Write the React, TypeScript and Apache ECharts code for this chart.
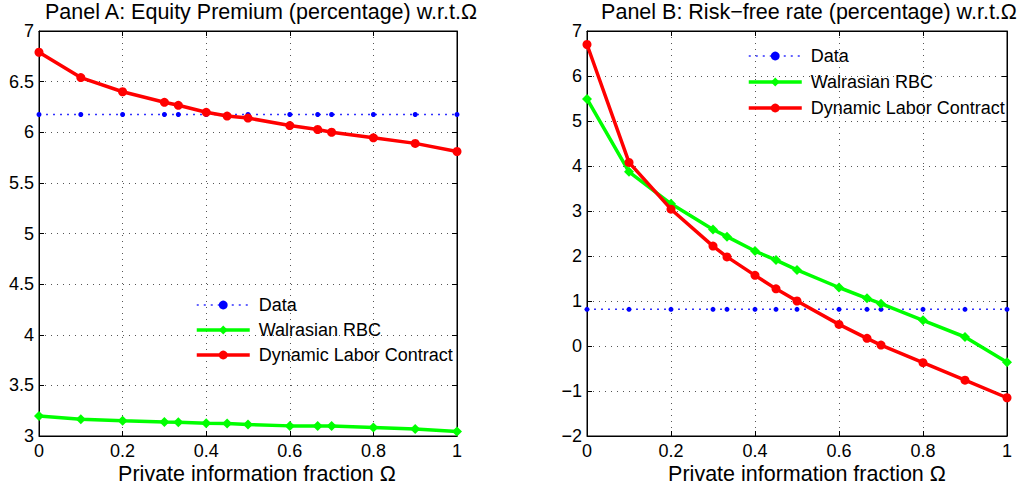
import React, { useEffect, useRef } from "react";
import * as echarts from "echarts";

const omega = [0, 0.1, 0.2, 0.3, 1 / 3, 0.4, 0.45, 0.5, 0.6, 2 / 3, 0.7, 0.8, 0.9, 1];

const epData = [6.175, 6.175, 6.175, 6.175, 6.175, 6.175, 6.175, 6.175, 6.175, 6.175, 6.175, 6.175, 6.175, 6.175];
const epWalras = [3.197, 3.165, 3.15, 3.138, 3.137, 3.125, 3.124, 3.113, 3.1, 3.099, 3.098, 3.085, 3.07, 3.045];
const epDLC = [6.79, 6.54, 6.4, 6.296, 6.266, 6.197, 6.16, 6.14, 6.066, 6.027, 6.0, 5.945, 5.89, 5.81];

const rfData = [0.815, 0.815, 0.815, 0.815, 0.815, 0.815, 0.815, 0.815, 0.815, 0.815, 0.815, 0.815, 0.815, 0.815];
const rfWalras = [5.49, 3.87, 3.16, 2.59, 2.43, 2.11, 1.91, 1.69, 1.3, 1.06, 0.94, 0.57, 0.2, -0.36];
const rfDLC = [6.7, 4.08, 3.04, 2.22, 1.98, 1.57, 1.27, 1.0, 0.48, 0.17, 0.02, -0.37, -0.76, -1.15];

const xTicks = { min: 0, max: 1, interval: 0.2 };
const yTicksA = { min: 3, max: 7, interval: 0.5 };
const yTicksB = { min: -2, max: 7, interval: 1 };

const titles = [
  "Panel A: Equity Premium (percentage) w.r.t.\u03A9",
  "Panel B: Risk\u2212free rate (percentage) w.r.t.\u03A9",
];
const xName = "Private information fraction \u03A9";
const names = ["Data", "Walrasian RBC", "Dynamic Labor Contract"];

const FONT = "'Liberation Sans', Arial, Helvetica, sans-serif";

const pairs = (ys: number[]) => omega.map((x, i) => [x, ys[i]]);

export default function App() {
  const ref = useRef<HTMLDivElement>(null);
  useEffect(() => {
    if (!ref.current) return;
    const chart = echarts.init(ref.current, null, { renderer: "svg" });
    const grids = [
      { left: 39, top: 31, width: 418, height: 405 },
      { left: 587, top: 31, width: 420, height: 405 },
    ];
    const fmt = (v: number) => String(v).replace("-", "\u2212");
    const gridLine = { show: true, lineStyle: { color: "#555", width: 1, type: [1, 5] as any } };
    const xAxes: any[] = [];
    const yAxes: any[] = [];
    [0, 1].forEach((g) => {
      xAxes.push({
        type: "value",
        gridIndex: g,
        ...xTicks,
        position: "bottom",
        axisLine: { show: true, onZero: false, lineStyle: { color: "#000", width: 1 } },
        axisTick: { show: true, inside: true, length: 5, lineStyle: { color: "#000" } },
        axisLabel: { fontFamily: FONT, fontSize: 18, color: "#000", margin: 6, formatter: fmt },
        splitLine: gridLine,
      });
      xAxes.push({
        type: "value",
        gridIndex: g,
        ...xTicks,
        position: "top",
        axisLine: { show: true, onZero: false, lineStyle: { color: "#000", width: 1 } },
        axisTick: { show: true, inside: true, length: 5, lineStyle: { color: "#000" } },
        axisLabel: { show: false },
        splitLine: { show: false },
      });
      const yt = g === 0 ? yTicksA : yTicksB;
      yAxes.push({
        type: "value",
        gridIndex: g,
        ...yt,
        position: "left",
        axisLine: { show: true, onZero: false, lineStyle: { color: "#000", width: 1 } },
        axisTick: { show: true, inside: true, length: 5, lineStyle: { color: "#000" } },
        axisLabel: { fontFamily: FONT, fontSize: 18, color: "#000", margin: 5, formatter: fmt },
        splitLine: gridLine,
      });
      yAxes.push({
        type: "value",
        gridIndex: g,
        ...yt,
        position: "right",
        axisLine: { show: true, onZero: false, lineStyle: { color: "#000", width: 1 } },
        axisTick: { show: true, inside: true, length: 5, lineStyle: { color: "#000" } },
        axisLabel: { show: false },
        splitLine: { show: false },
      });
    });

    const mk = (g: number, name: string, ys: number[]) => {
      const base: any = {
        type: "line",
        name,
        xAxisIndex: g * 2,
        yAxisIndex: g * 2,
        data: pairs(ys),
        silent: true,
      };
      if (name === "Data") {
        return {
          ...base,
          symbol: "circle",
          symbolSize: 5,
          itemStyle: { color: "#0000ff" },
          lineStyle: { color: "#3030ff", width: 1.5, type: [2, 5] },
          z: 2,
        };
      }
      if (name === "Walrasian RBC") {
        return {
          ...base,
          symbol: "diamond",
          symbolSize: 10,
          itemStyle: { color: "#00ff00" },
          lineStyle: { color: "#00ff00", width: 3.5 },
          z: 3,
        };
      }
      return {
        ...base,
        symbol: "circle",
        symbolSize: 9,
        itemStyle: { color: "#ff0000" },
        lineStyle: { color: "#ff0000", width: 3.5 },
        z: 4,
      };
    };

    const legendData = [
      { name: names[0], lineStyle: { width: 1.5, type: [2, 5] } },
      { name: names[1], lineStyle: { width: 3.5 } },
      { name: names[2], lineStyle: { width: 3.5 } },
    ];

    const legendBase = {
      orient: "vertical",
      selectedMode: false,
      itemWidth: 53,
      itemHeight: 11,
      itemGap: 7,
      data: legendData,
      textStyle: { fontFamily: FONT, fontSize: 18, color: "#000", lineHeight: 18, padding: [0, 0, 0, 4] },
    };

    const txt = (text: string, x: number, y: number, size: number) => ({
      type: "text",
      x,
      y,
      silent: true,
      style: { text, fontFamily: FONT, fontSize: size, fill: "#000", align: "center", verticalAlign: "middle" },
    });

    chart.setOption({
      animation: false,
      backgroundColor: "#fff",
      grid: grids.map((g) => ({ ...g, show: true, borderColor: "#000", borderWidth: 1, backgroundColor: "#fff" })),
      xAxis: xAxes,
      yAxis: yAxes,
      legend: [
        { ...legendBase, left: 190, top: 291 },
        { ...legendBase, left: 742, top: 42, itemGap: 8 },
      ],
      graphic: [
        txt(titles[0], 261, 12, 21.5),
        txt(titles[1], 809, 12, 21.5),
        txt(xName, 257, 474, 21.5),
        txt(xName, 807, 474, 21.5),
      ],
      series: [
        mk(0, names[0], epData),
        mk(0, names[1], epWalras),
        mk(0, names[2], epDLC),
        mk(1, names[0], rfData),
        mk(1, names[1], rfWalras),
        mk(1, names[2], rfDLC),
      ],
    });
    return () => chart.dispose();
  }, []);
  return (
    <div
      ref={ref}
      style={{ position: "fixed", left: 0, top: 0, width: 1025, height: 488, background: "#fff" }}
    />
  );
}
